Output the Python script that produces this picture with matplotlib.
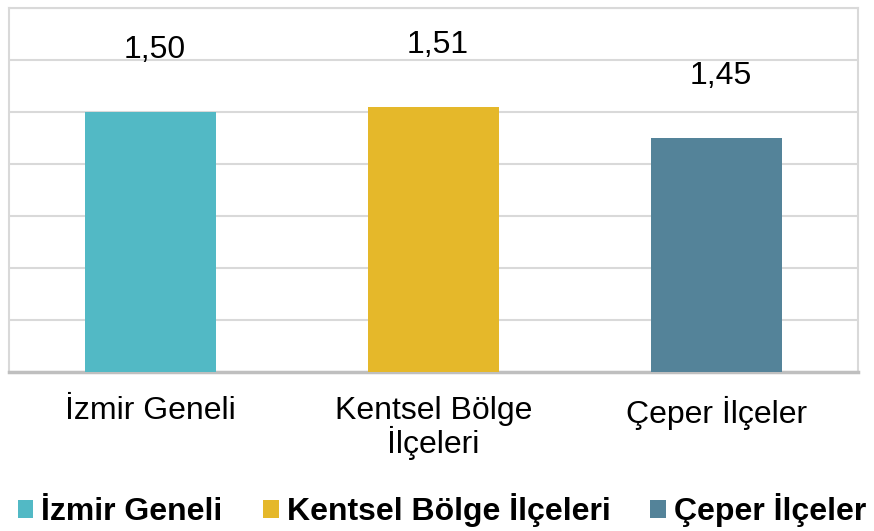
import matplotlib
matplotlib.use("Agg")
import matplotlib.pyplot as plt
from matplotlib.patches import Patch

categories = ["İzmir Geneli", "Kentsel Bölge\nİlçeleri", "Çeper İlçeler"]
legend_names = ["İzmir Geneli", "Kentsel Bölge İlçeleri", "Çeper İlçeler"]
values = [1.50, 1.51, 1.45]
labels = ["1,50", "1,51", "1,45"]
colors = ["#52B9C5", "#E5B82A", "#548399"]

plt.rcParams['font.family'] = ['Liberation Sans', 'DejaVu Sans']

fig = plt.figure(figsize=(8.74, 5.31), dpi=100)
ax = fig.add_axes([9 / 874, 1 - 372 / 531, 849 / 874, 364 / 531])

x = range(len(values))
base = 1.0
ax.bar(x, [v - base for v in values], bottom=base, width=0.466, color=colors, zorder=3)

# value labels sit well above the bars, as in the original
for i, v in enumerate(values):
    ax.annotate(labels[i], (i, v), xytext=(3, 39), textcoords="offset points",
                ha="center", va="baseline", fontsize=23, color="#000000")

ax.set_xlim(-0.5, 2.5)
ax.set_ylim(1.0, 1.7)
ax.set_yticks([1.0 + 0.1 * k for k in range(8)])
ax.set_yticklabels([])
ax.tick_params(axis="y", length=0)
ax.grid(axis="y", color="#D9D9D9", linewidth=1.5, zorder=0)

ax.set_xticks(list(x))
ax.set_xticklabels(categories, fontsize=23, linespacing=1.0)
ax.tick_params(axis="x", length=0, pad=17)

for side in ["left", "right", "top"]:
    ax.spines[side].set_color("#D9D9D9")
    ax.spines[side].set_linewidth(1.5)
ax.spines["bottom"].set_color("#BFBFBF")
ax.spines["bottom"].set_linewidth(2.5)

handles = [Patch(facecolor=c, edgecolor="none") for c in colors]
fig.legend(handles, legend_names, loc="center", bbox_to_anchor=(442 / 874, 1 - 510 / 531),
           ncol=3, frameon=False, prop={"size": 23, "weight": "bold"},
           handlelength=0.5, handleheight=0.5, handletextpad=0.25, columnspacing=1.25,
           borderpad=0, borderaxespad=0)

fig.savefig("out.png", dpi=100)
